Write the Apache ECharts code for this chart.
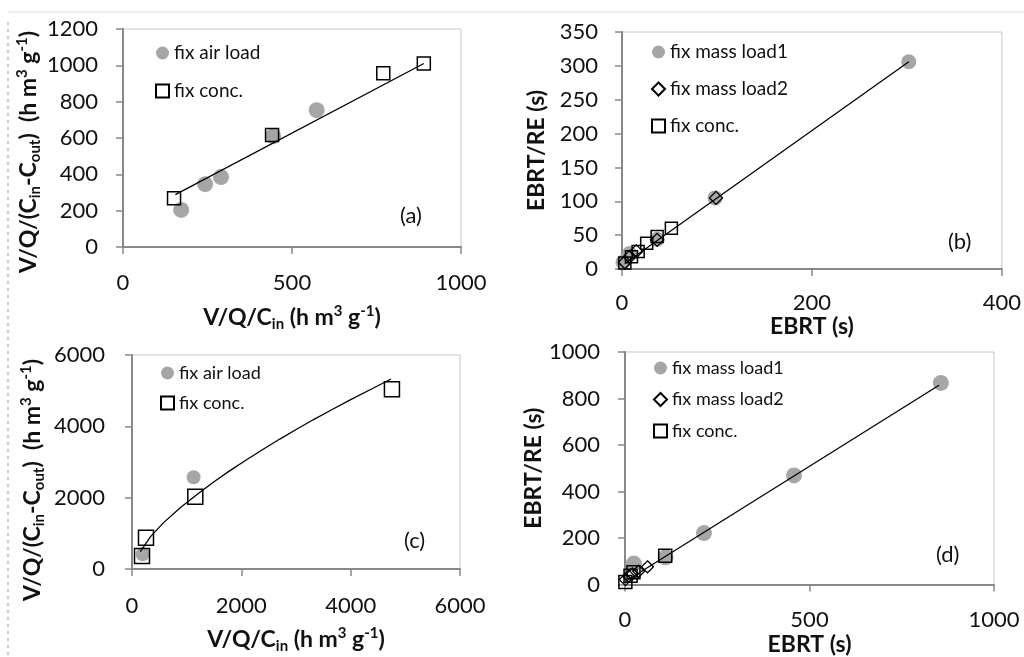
<!DOCTYPE html>
<html lang="en">
<head>
<meta charset="UTF-8">
<title>EBRT / V/Q plots</title>
<script src="https://cdn.jsdelivr.net/npm/echarts@6/dist/echarts.min.js"></script>
<style>
html, body { margin: 0; padding: 0; background: #fff; }
#main { width: 1024px; height: 657px; }
</style>
</head>
<body>
<div id="main"></div>
<script>
// (a) V/Q/Cin vs V/Q/(Cin-Cout)
var aAirX = [172, 243, 290, 444, 573];
var aAirY = [204, 346, 385, 610, 753];
var aConcX = [151, 441, 770, 890];
var aConcY = [268, 616, 956, 1010];
var aFitX = [155, 890];
var aFitY = [288, 1010];

// (b) EBRT vs EBRT/RE
var bLoad1X = [1, 8, 37, 98, 302];
var bLoad1Y = [10, 23, 44, 105, 306];
var bLoad2X = [3, 8, 15, 37, 99];
var bLoad2Y = [10, 18, 26, 43, 105];
var bConcX = [3, 10, 17, 26, 37, 52];
var bConcY = [9, 18, 26, 38, 48, 60];
var bFitX = [3, 302];
var bFitY = [8, 306];

// (c)
var cAirX = [194, 1127];
var cAirY = [412, 2571];
var cConcX = [183, 256, 1158, 4755];
var cConcY = [364, 879, 2028, 5038];
var cFitX = [152, 335, 578, 883, 1189, 1493, 1798, 2103, 2407, 2712, 3018, 3322, 3627, 4000, 4400, 4737];
var cFitY = [485, 900, 1300, 1720, 2090, 2440, 2765, 3070, 3365, 3650, 3925, 4190, 4445, 4750, 5060, 5328];

// (d)
var dLoad1X = [24, 110, 214, 458, 856];
var dLoad1Y = [90, 117, 221, 469, 867];
var dLoad2X = [1, 10, 20, 37, 61];
var dLoad2Y = [21, 36, 45, 57, 76];
var dConcX = [1, 15, 23, 109];
var dConcY = [11, 38, 53, 124];
var dFitX = [2, 851];
var dFitY = [14, 857];

function pts(xs, ys) {
  return xs.map(function (x, i) { return [x, ys[i]]; });
}

var chart = echarts.init(document.getElementById('main'));

var rich = {
  b: { fontSize: 23, fontWeight: 'bold', lineHeight: 28, color: '#111', fontFamily: 'Lato' },
  sub: { fontSize: 15, fontWeight: 'bold', lineHeight: 14, verticalAlign: 'bottom', color: '#111', fontFamily: 'Lato' },
  sup: { fontSize: 15, fontWeight: 'bold', lineHeight: 14, verticalAlign: 'top', color: '#111', fontFamily: 'Lato' },
  // empty tail used to push the rotated y titles a little down
  tailA: { width: 28 },
  tailC: { width: 36 }
};
var xNameVQ = '{b|V/Q/C}{sub|in}{b| (h m}{sup|3}{b| g}{sup|-1}{b|)}';
var yNameVQa = '{b|V/Q/(C}{sub|in}{b|-C}{sub|out}{b|)  (h m}{sup|3}{b| g}{sup|-1}{b|)}{tailA| }';
var yNameVQc = '{b|V/Q/(C}{sub|in}{b|-C}{sub|out}{b|)  (h m}{sup|3}{b| g}{sup|-1}{b|)}{tailC| }';
var nameEBRT = '{b|EBRT (s)}';
var nameRE = '{b|EBRT/RE (s)}';

function axis(gi, min, max, step, name, gap, margin) {
  return {
    type: 'value', gridIndex: gi, min: min, max: max, interval: step,
    name: name, nameLocation: 'middle', nameGap: gap,
    nameTextStyle: { rich: rich },
    axisLine: { show: true, onZero: false, lineStyle: { color: '#888', width: 2 } },
    axisTick: { show: true, length: 7, lineStyle: { color: '#888', width: 1.5 } },
    axisLabel: { margin: margin, fontSize: 22, color: '#111', fontFamily: 'Lato',
      formatter: function (v) { return String(v); } },
    splitLine: { show: false }
  };
}

function circle(name, gi, data, size) {
  return { name: name, type: 'scatter', xAxisIndex: gi, yAxisIndex: gi, data: data,
    symbol: 'circle', symbolSize: size, itemStyle: { color: '#a6a6a6', opacity: 1 }, z: 2 };
}
function diamond(name, gi, data, size) {
  return { name: name, type: 'scatter', xAxisIndex: gi, yAxisIndex: gi, data: data,
    symbol: 'diamond', symbolSize: size,
    itemStyle: { color: 'rgba(255,255,255,0)', borderColor: '#000', borderWidth: 1.3, opacity: 1 }, z: 3 };
}
function square(name, gi, data, size) {
  return { name: name, type: 'scatter', xAxisIndex: gi, yAxisIndex: gi, data: data,
    symbol: 'rect', symbolSize: size,
    itemStyle: { color: 'rgba(255,255,255,0)', borderColor: '#000', borderWidth: 1.5, opacity: 1 }, z: 4 };
}
function fit(gi, data) {
  return { type: 'line', xAxisIndex: gi, yAxisIndex: gi, data: data, symbol: 'none',
    lineStyle: { color: '#000', width: 1.3 }, z: 5, silent: true };
}

var gridBase = { show: true, borderColor: '#c8c8c8', borderWidth: 1, backgroundColor: 'transparent' };

function legend(names, left, top, gap, fs) {
  return {
    data: names, orient: 'vertical', left: left, top: top, padding: 0, itemGap: gap,
    itemWidth: 13, itemHeight: 13, selectedMode: false,
    textStyle: { fontSize: fs, lineHeight: 20, color: '#111', fontFamily: 'Lato' }
  };
}

var option = {
  animation: false,
  backgroundColor: '#fff',
  textStyle: { fontFamily: 'Lato' },
  grid: [
    Object.assign({ left: 123, top: 29, width: 338, height: 218 }, gridBase),
    Object.assign({ left: 622, top: 32, width: 380, height: 237 }, gridBase),
    Object.assign({ left: 132, top: 355, width: 328, height: 214 }, gridBase),
    Object.assign({ left: 625, top: 352, width: 369, height: 233 }, gridBase)
  ],
  xAxis: [
    axis(0, 0, 1000, 500, xNameVQ, 57, 25),
    axis(1, 0, 400, 200, nameEBRT, 40, 23),
    axis(2, 0, 6000, 2000, xNameVQ, 57, 26),
    axis(3, 0, 1000, 500, nameEBRT, 46, 24)
  ],
  yAxis: [
    axis(0, 0, 1200, 200, yNameVQa, 79, 25),
    axis(1, 0, 350, 50, nameRE, 71, 24),
    axis(2, 0, 6000, 2000, yNameVQc, 85, 27),
    axis(3, 0, 1000, 200, nameRE, 74, 25)
  ],
  legend: [
    legend(['fix air load', 'fix conc.'], 155, 43, 18, 19),
    legend(['fix mass load1', 'fix mass load2', 'fix conc.'], 651, 42, 17, 19),
    legend(['fix air load', 'fix conc.'], 160, 363, 10, 18),
    legend(['fix mass load1', 'fix mass load2', 'fix conc.'], 653, 358, 11.5, 18)
  ],
  series: [
    circle('fix air load', 0, pts(aAirX, aAirY), 16),
    square('fix conc.', 0, pts(aConcX, aConcY), 13),
    fit(0, pts(aFitX, aFitY)),

    circle('fix mass load1', 1, pts(bLoad1X, bLoad1Y), 15),
    diamond('fix mass load2', 1, pts(bLoad2X, bLoad2Y), 13),
    square('fix conc.', 1, pts(bConcX, bConcY), 12),
    fit(1, pts(bFitX, bFitY)),

    circle('fix air load', 2, pts(cAirX, cAirY), 14),
    square('fix conc.', 2, pts(cConcX, cConcY), 15),
    fit(2, pts(cFitX, cFitY)),

    circle('fix mass load1', 3, pts(dLoad1X, dLoad1Y), 16),
    diamond('fix mass load2', 3, pts(dLoad2X, dLoad2Y), 12),
    square('fix conc.', 3, pts(dConcX, dConcY), 13),
    fit(3, pts(dFitX, dFitY))
  ],
  graphic: [
    { type: 'line', shape: { x1: 8, y1: 12, x2: 1024, y2: 12 }, style: { stroke: '#dcdcdc', lineWidth: 1 } },
    { type: 'line', shape: { x1: 8, y1: 22, x2: 8, y2: 657 }, style: { stroke: '#999', lineWidth: 1, lineDash: [3, 4] } },
    { type: 'text', left: 400, top: 205, style: { text: '(a)', fontSize: 22, fill: '#111', fontFamily: 'Lato' } },
    { type: 'text', left: 948, top: 231, style: { text: '(b)', fontSize: 22, fill: '#111', fontFamily: 'Lato' } },
    { type: 'text', left: 404, top: 530, style: { text: '(c)', fontSize: 22, fill: '#111', fontFamily: 'Lato' } },
    { type: 'text', left: 936, top: 544, style: { text: '(d)', fontSize: 22, fill: '#111', fontFamily: 'Lato' } }
  ]
};

chart.setOption(option);
</script>
</body>
</html>
